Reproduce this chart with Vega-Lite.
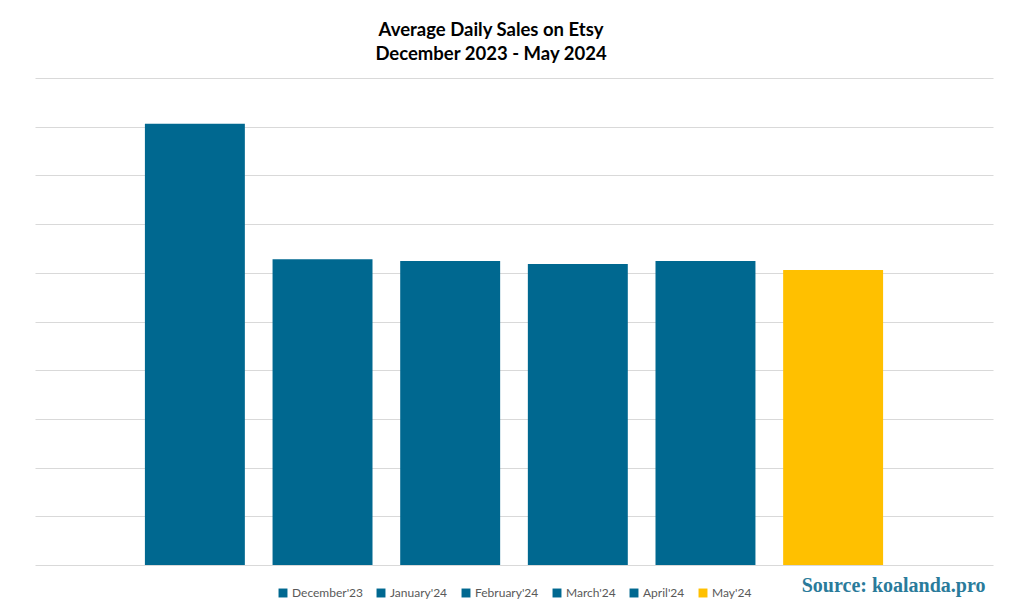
{
  "$schema": "https://vega.github.io/schema/vega-lite/v6.json",
  "width": 958,
  "height": 487,
  "autosize": {"type": "none"},
  "padding": {"left": 35, "top": 78, "right": 31, "bottom": 49},
  "background": "white",
  "title": {
    "text": ["Average Daily Sales on Etsy", "December 2023 - May 2024"],
    "font": "Lato",
    "fontSize": 18.5,
    "fontWeight": "bold",
    "color": "#000000",
    "lineHeight": 24,
    "anchor": "middle",
    "dx": -23,
    "offset": 15
  },
  "data": {
    "values": [
      {"month": "December'23", "sales": 9.06},
      {"month": "January'24", "sales": 6.28},
      {"month": "February'24", "sales": 6.24},
      {"month": "March'24", "sales": 6.18},
      {"month": "April'24", "sales": 6.24},
      {"month": "May'24", "sales": 6.06}
    ]
  },
  "mark": {"type": "bar"},
  "encoding": {
    "x": {
      "field": "month",
      "type": "nominal",
      "sort": null,
      "scale": {"paddingInner": 0.217, "paddingOuter": 0.861},
      "axis": {
        "labels": false,
        "ticks": false,
        "domain": false,
        "title": "Source: koalanda.pro",
        "titleFont": "Liberation Serif",
        "titleFontSize": 20,
        "titleFontWeight": "bold",
        "titleColor": "#2a7b9b",
        "titleAnchor": "end",
        "titleAlign": "right",
        "titleBaseline": "middle",
        "titleX": 950,
        "titleY": 20
      }
    },
    "y": {
      "field": "sales",
      "type": "quantitative",
      "scale": {"domain": [0, 10], "nice": false},
      "axis": {
        "title": null,
        "labels": false,
        "ticks": false,
        "domain": false,
        "grid": true,
        "gridColor": "#d9d9d9",
        "gridWidth": 1.2,
        "values": [0, 1, 2, 3, 4, 5, 6, 7, 8, 9, 10]
      }
    },
    "color": {
      "field": "month",
      "type": "nominal",
      "sort": null,
      "scale": {
        "domain": ["December'23", "January'24", "February'24", "March'24", "April'24", "May'24"],
        "range": ["#006890", "#006890", "#006890", "#006890", "#006890", "#FFC000"]
      },
      "legend": {
        "title": null,
        "orient": "none",
        "legendX": 242,
        "legendY": 509,
        "direction": "horizontal",
        "symbolType": "square",
        "symbolSize": 80,
        "symbolStrokeWidth": 0,
        "labelFont": "Lato",
        "labelFontSize": 12,
        "labelColor": "#595959",
        "labelOffset": 3,
        "columnPadding": 12
      }
    }
  },
  "config": {
    "view": {"stroke": null},
    "font": "Lato"
  }
}
